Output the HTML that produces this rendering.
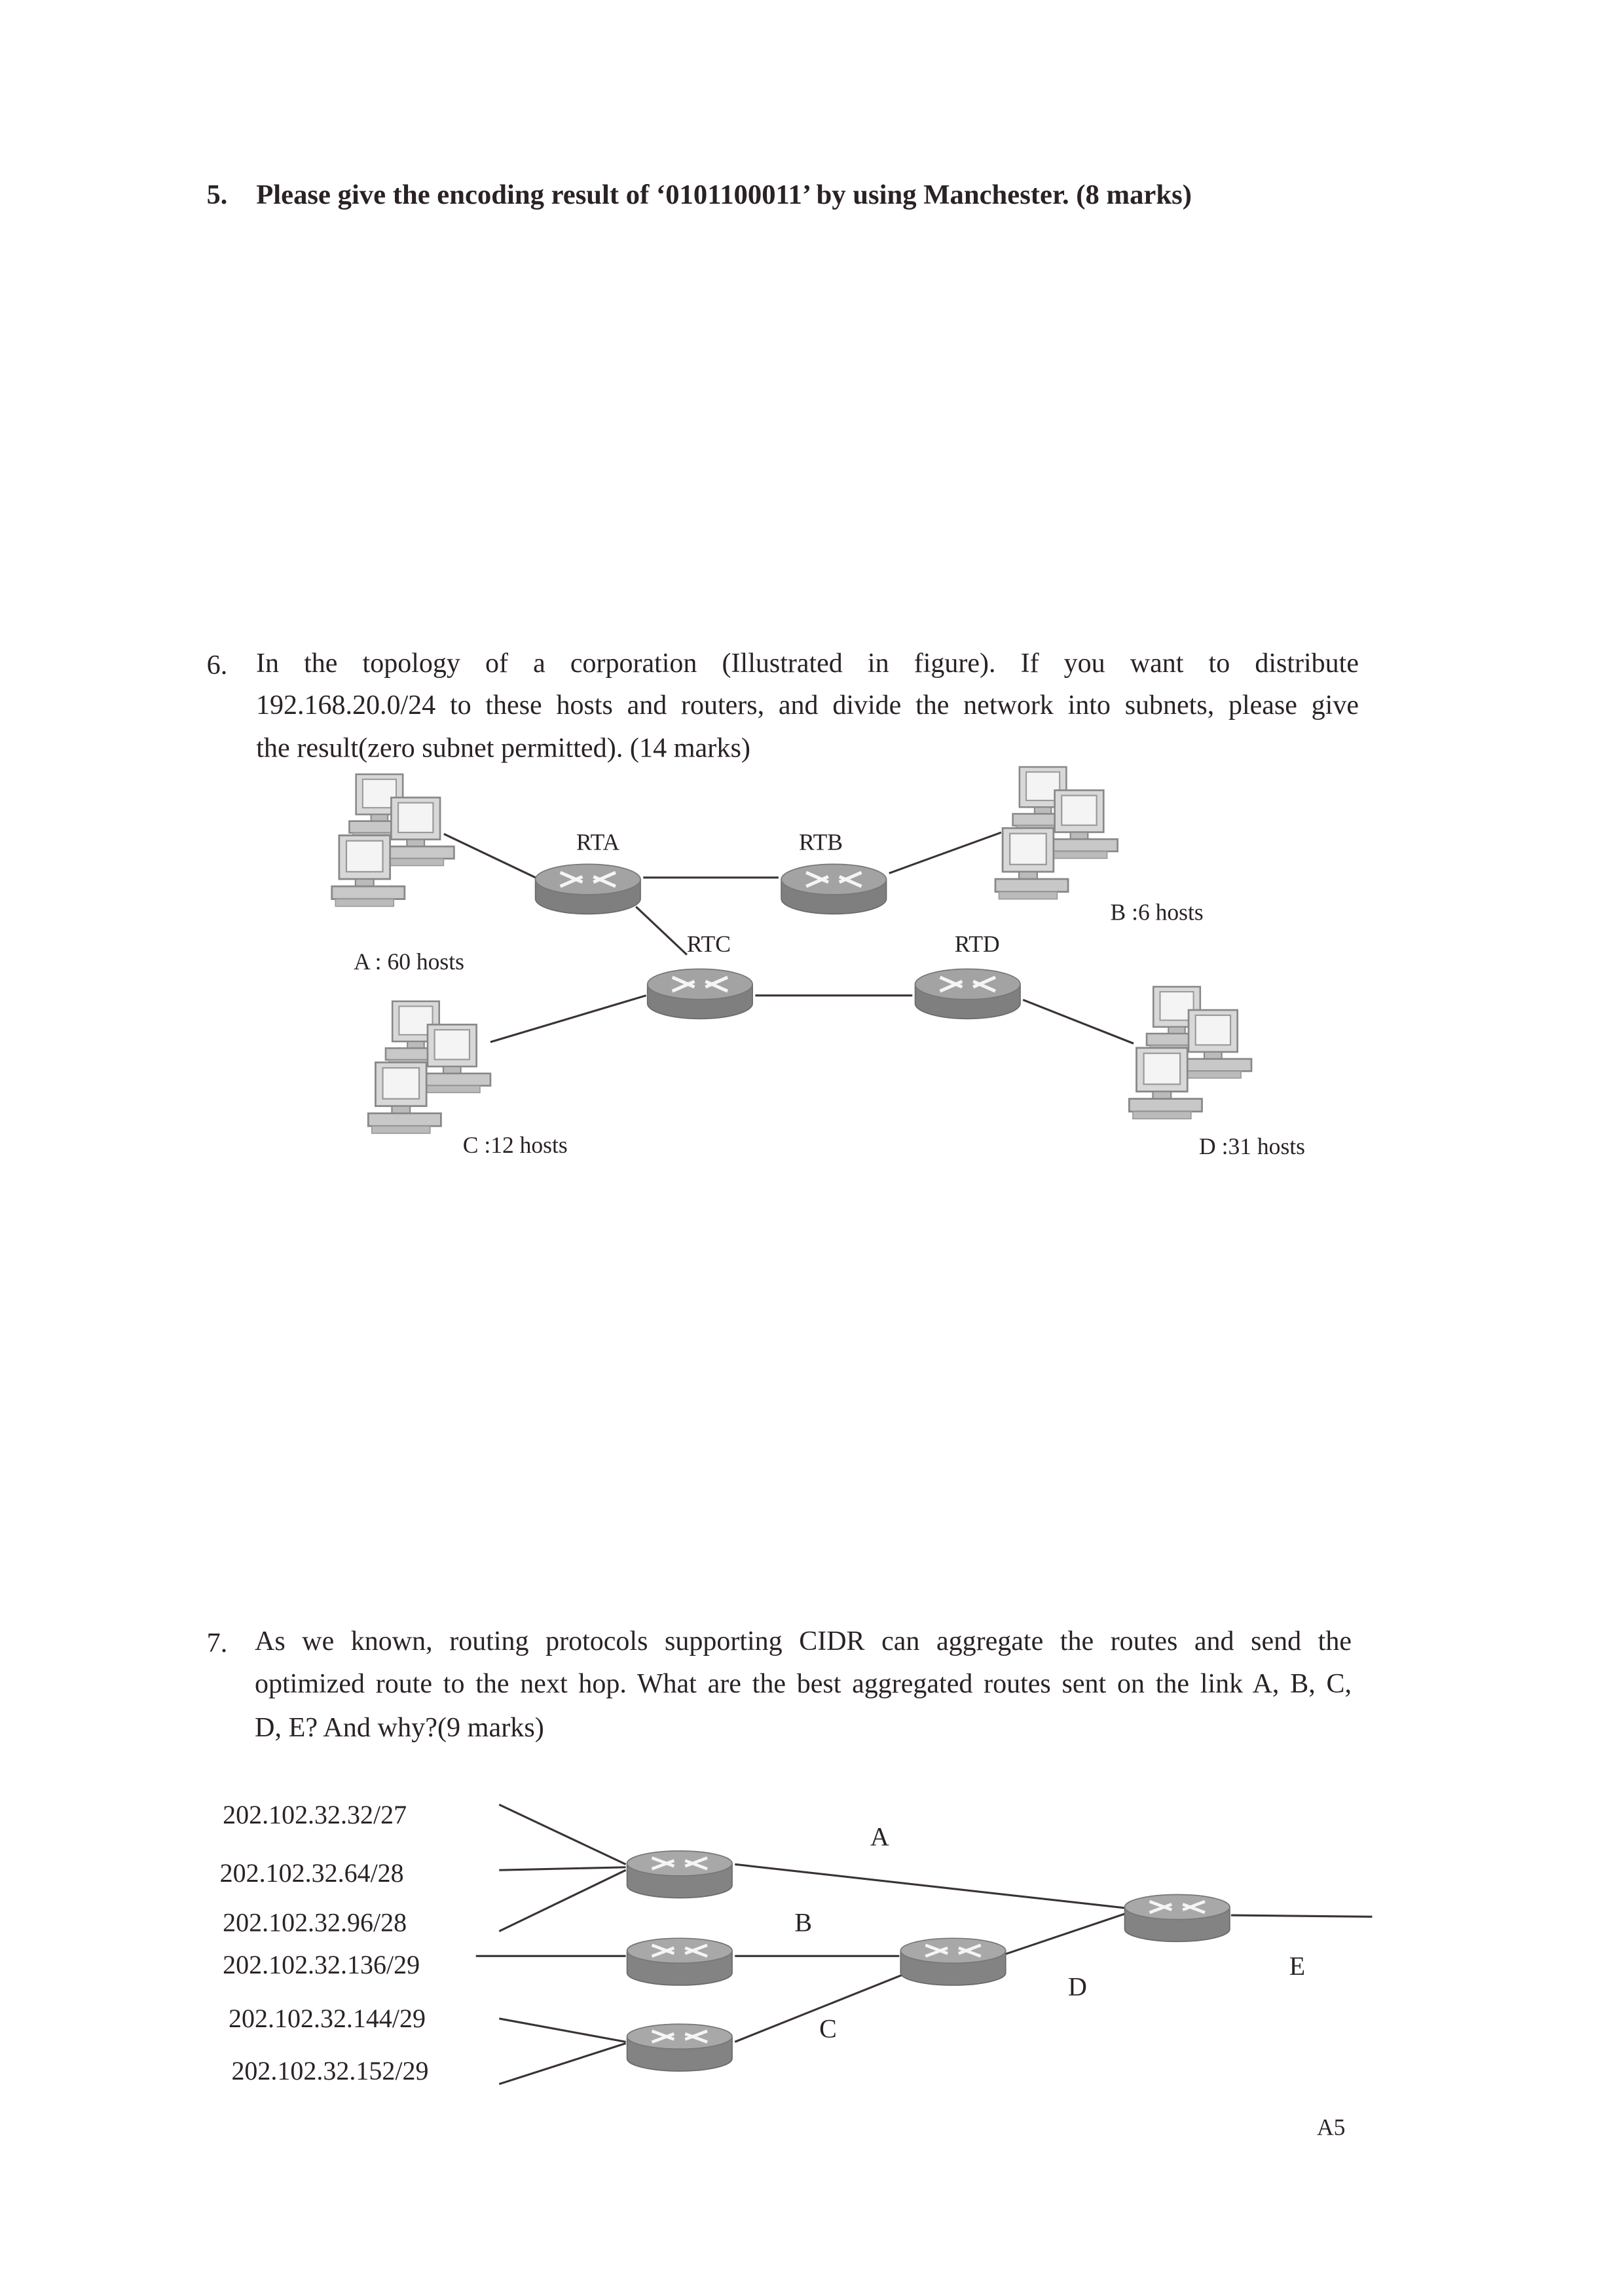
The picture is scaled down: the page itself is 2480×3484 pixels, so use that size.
<!DOCTYPE html>
<html><head><meta charset="utf-8"><style>
html,body{margin:0;padding:0;background:#fff;}
body{position:relative;width:2480px;height:3484px;overflow:hidden;}
svg{display:block;position:absolute;left:0;top:0;}
text{font-family:"Liberation Serif",serif;fill:#2a2226;}
.jl{position:absolute;font-family:"Liberation Serif",serif;font-size:42px;line-height:42px;color:#2a2226;white-space:nowrap;text-align:justify;text-align-last:justify;}
</style></head><body>
<svg width="2480" height="3484" viewBox="0 0 1116 1568" xmlns="http://www.w3.org/2000/svg">
<defs>
<symbol id="pc" viewBox="0 0 40 40" overflow="visible">
  <rect x="4" y="0" width="28" height="24" fill="#d8d8d8" stroke="#888" stroke-width="1"/>
  <rect x="8" y="3" width="20" height="17" fill="#f4f4f4" stroke="#999" stroke-width="0.8"/>
  <rect x="13" y="24" width="10" height="4" fill="#bbb" stroke="#888" stroke-width="0.8"/>
  <rect x="0" y="28" width="40" height="7" fill="#c8c8c8" stroke="#888" stroke-width="1"/>
  <rect x="2" y="35" width="32" height="4" fill="#bbb" stroke="#999" stroke-width="0.6"/>
</symbol>
<symbol id="hosts" viewBox="0 0 85 95" overflow="visible">
  <use href="#pc" x="12" y="0" width="46" height="46"/>
  <use href="#pc" x="36" y="16" width="48" height="48"/>
  <use href="#pc" x="0" y="42" width="50" height="50"/>
</symbol>
<symbol id="rt" viewBox="-40 -20 80 40" overflow="visible">
  <path d="M-38,-5 L-38,9 A38,11 0 0 0 38,9 L38,-5 Z" fill="#7f7f7f" stroke="#6a6a6a" stroke-width="0.8"/>
  <ellipse cx="0" cy="-5" rx="38" ry="11" fill="#a3a3a3" stroke="#777" stroke-width="0.8"/>
  <g stroke="#f5f5f5" stroke-width="2.4" fill="none">
    <line x1="-20" y1="-10" x2="-4" y2="-3"/><line x1="4" y1="-7" x2="20" y2="0"/>
    <line x1="20" y1="-10" x2="4" y2="-3"/><line x1="-4" y1="-7" x2="-20" y2="0"/>
  </g>
</symbol>
<symbol id="rt2" viewBox="-40 -20 80 40" overflow="visible">
  <path d="M-38,-7 L-38,9 A38,9 0 0 0 38,9 L38,-7 Z" fill="#838383" stroke="#6a6a6a" stroke-width="0.8"/>
  <ellipse cx="0" cy="-7" rx="38" ry="9" fill="#a8a8a8" stroke="#777" stroke-width="0.8"/>
  <g stroke="#f5f5f5" stroke-width="2.2" fill="none">
    <line x1="-20" y1="-11" x2="-4" y2="-5"/><line x1="4" y1="-9" x2="20" y2="-3"/>
    <line x1="20" y1="-11" x2="4" y2="-5"/><line x1="-4" y1="-9" x2="-20" y2="-3"/>
  </g>
</symbol>
</defs>

<!-- Q5 -->
<text x="142" y="140" font-size="19" font-weight="bold">5.</text>
<text x="176" y="140" font-size="19" font-weight="bold" textLength="643" lengthAdjust="spacingAndGlyphs">Please give the encoding result of ‘0101100011’ by using Manchester. (8 marks)</text>

<!-- Q6 -->
<text x="142" y="463" font-size="19">6.</text>
<text x="176" y="520" font-size="19">the result(zero subnet permitted). (14 marks)</text>

<g stroke="#3a3236" stroke-width="1.4">
<line x1="305" y1="573" x2="368" y2="603"/>
<line x1="442" y1="603" x2="535" y2="603"/>
<line x1="611" y1="600" x2="688" y2="572"/>
<line x1="437" y1="623" x2="472" y2="656"/>
<line x1="519" y1="684" x2="627" y2="684"/>
<line x1="337" y1="716" x2="444" y2="684"/>
<line x1="703" y1="687" x2="779" y2="717"/>
</g>
<use href="#hosts" x="228" y="532" width="85" height="95"/>
<use href="#hosts" x="684" y="527" width="85" height="95"/>
<use href="#hosts" x="253" y="688" width="85" height="95"/>
<use href="#hosts" x="776" y="678" width="85" height="95"/>
<use href="#rt" x="366" y="590" width="76" height="38"/>
<use href="#rt" x="535" y="590" width="76" height="38"/>
<use href="#rt" x="443" y="662" width="76" height="38"/>
<use href="#rt" x="627" y="662" width="76" height="38"/>

<g font-size="16">
<text x="396" y="584">RTA</text>
<text x="549" y="584">RTB</text>
<text x="472" y="654">RTC</text>
<text x="656" y="654">RTD</text>
<text x="763" y="632">B :6 hosts</text>
<text x="243" y="666">A : 60 hosts</text>
<text x="318" y="792">C :12 hosts</text>
<text x="824" y="793">D :31 hosts</text>
</g>

<!-- Q7 -->
<text x="142" y="1135" font-size="19">7.</text>
<text x="175" y="1193" font-size="19">D, E? And why?(9 marks)</text>

<g font-size="18">
<text x="153" y="1253">202.102.32.32/27</text>
<text x="151" y="1293">202.102.32.64/28</text>
<text x="153" y="1327">202.102.32.96/28</text>
<text x="153" y="1356">202.102.32.136/29</text>
<text x="157" y="1393">202.102.32.144/29</text>
<text x="159" y="1429">202.102.32.152/29</text>
</g>
<g stroke="#3a3236" stroke-width="1.4">
<line x1="343" y1="1240" x2="430" y2="1281"/>
<line x1="343" y1="1285" x2="430" y2="1283"/>
<line x1="343" y1="1327" x2="430" y2="1285"/>
<line x1="505" y1="1281" x2="773" y2="1311"/>
<line x1="327" y1="1344" x2="430" y2="1344"/>
<line x1="505" y1="1344" x2="618" y2="1344"/>
<line x1="505" y1="1403" x2="620" y2="1357"/>
<line x1="690" y1="1343" x2="773" y2="1315"/>
<line x1="846" y1="1316" x2="943" y2="1317"/>
<line x1="343" y1="1387" x2="430" y2="1403"/>
<line x1="343" y1="1432" x2="430" y2="1404"/>
</g>
<use href="#rt2" x="429" y="1268" width="76" height="38"/>
<use href="#rt2" x="429" y="1328" width="76" height="38"/>
<use href="#rt2" x="429" y="1387" width="76" height="38"/>
<use href="#rt2" x="617" y="1328" width="76" height="38"/>
<use href="#rt2" x="771" y="1298" width="76" height="38"/>
<g font-size="18">
<text x="598" y="1268">A</text>
<text x="546" y="1327">B</text>
<text x="563" y="1400">C</text>
<text x="734" y="1371">D</text>
<text x="886" y="1357">E</text>
</g>
<text x="905" y="1467" font-size="16">A5</text>
</svg>
<div class="jl" style="left:391px;top:992px;width:1684px;">In the topology of a corporation (Illustrated in figure). If you want to distribute</div>
<div class="jl" style="left:391px;top:1056px;width:1684px;">192.168.20.0/24 to these hosts and routers, and divide the network into subnets, please give</div>
<div class="jl" style="left:389px;top:2485px;width:1675px;">As we known, routing protocols supporting CIDR can aggregate the routes and send the</div>
<div class="jl" style="left:389px;top:2550px;width:1675px;">optimized route to the next hop. What are the best aggregated routes sent on the link A, B, C,</div>
</body></html>
